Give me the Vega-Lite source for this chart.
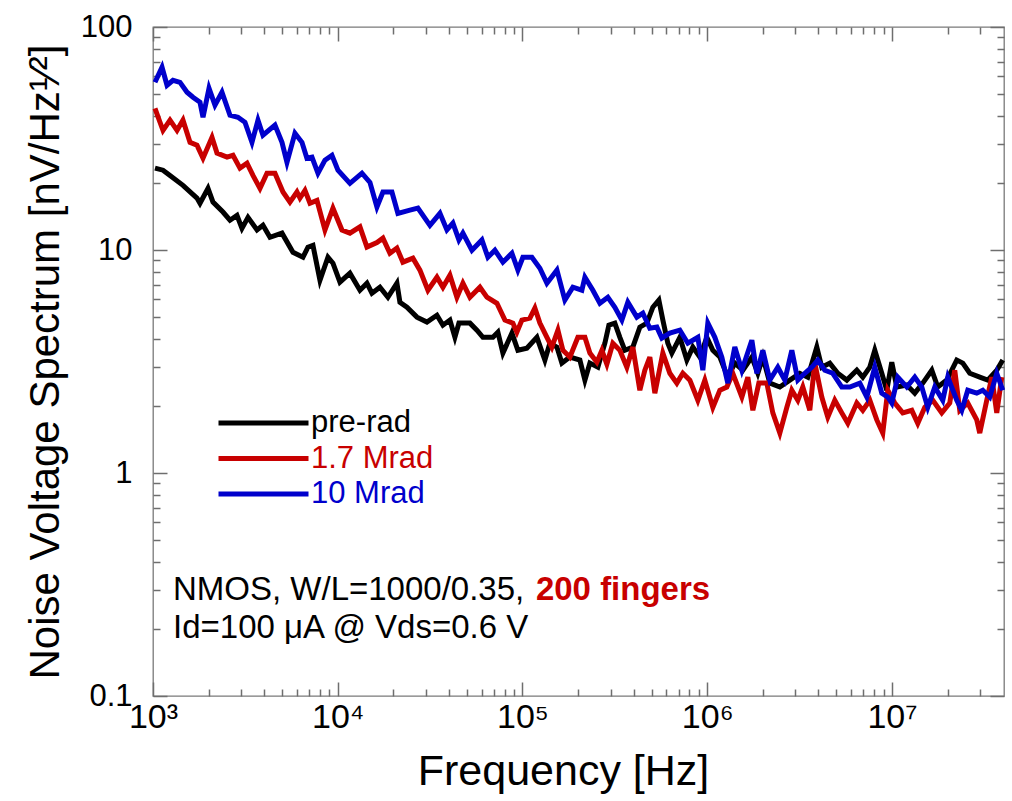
{
"$schema": "https://vega.github.io/schema/vega-lite/v6.json",
"width": 851, "height": 669,
"autosize": "none",
"padding": {"left": 153, "top": 27, "right": 8, "bottom": 105},
"background": "white",
"config": {
  "view": {"stroke": "#7a7a7a", "strokeWidth": 1.3},
  "font": "Liberation Sans"
},
"data": {"values": [
{"s":"pre-rad","f":1025,"v":23.3},{"s":"pre-rad","f":1133,"v":22.8},{"s":"pre-rad","f":1236,"v":21.6},{"s":"pre-rad","f":1453,"v":19.5},{"s":"pre-rad","f":1730,"v":17.1},{"s":"pre-rad","f":1796,"v":16.2},{"s":"pre-rad","f":1985,"v":18.9},{"s":"pre-rad","f":2112,"v":16.4},{"s":"pre-rad","f":2392,"v":14.8},{"s":"pre-rad","f":2610,"v":13.6},{"s":"pre-rad","f":2848,"v":14.3},{"s":"pre-rad","f":3031,"v":12.5},{"s":"pre-rad","f":3267,"v":14.0},{"s":"pre-rad","f":3655,"v":12.3},{"s":"pre-rad","f":3937,"v":12.9},{"s":"pre-rad","f":4296,"v":11.4},{"s":"pre-rad","f":4991,"v":11.9},{"s":"pre-rad","f":5723,"v":9.77},{"s":"pre-rad","f":6482,"v":9.28},{"s":"pre-rad","f":6898,"v":10.3},{"s":"pre-rad","f":7342,"v":10.5},{"s":"pre-rad","f":8011,"v":7.32},{"s":"pre-rad","f":8851,"v":9.28},{"s":"pre-rad","f":9420,"v":8.73},{"s":"pre-rad","f":10278,"v":7.17},{"s":"pre-rad","f":11641,"v":7.87},{"s":"pre-rad","f":13188,"v":6.60},{"s":"pre-rad","f":14387,"v":7.10},{"s":"pre-rad","f":15314,"v":6.40},{"s":"pre-rad","f":16918,"v":6.81},{"s":"pre-rad","f":18690,"v":6.14},{"s":"pre-rad","f":20908,"v":7.10},{"s":"pre-rad","f":21703,"v":5.83},{"s":"pre-rad","f":23686,"v":5.54},{"s":"pre-rad","f":26833,"v":5.00},{"s":"pre-rad","f":30393,"v":4.75},{"s":"pre-rad","f":34431,"v":5.10},{"s":"pre-rad","f":37093,"v":4.60},{"s":"pre-rad","f":40470,"v":4.85},{"s":"pre-rad","f":43070,"v":4.06},{"s":"pre-rad","f":45280,"v":4.70},{"s":"pre-rad","f":51935,"v":4.70},{"s":"pre-rad","f":56660,"v":4.37},{"s":"pre-rad","f":61055,"v":4.06},{"s":"pre-rad","f":69170,"v":4.06},{"s":"pre-rad","f":73610,"v":4.28},{"s":"pre-rad","f":78340,"v":3.45},{"s":"pre-rad","f":87640,"v":4.24},{"s":"pre-rad","f":94430,"v":3.55},{"s":"pre-rad","f":105600,"v":3.63},{"s":"pre-rad","f":119700,"v":4.06},{"s":"pre-rad","f":132200,"v":3.21},{"s":"pre-rad","f":140700,"v":3.82},{"s":"pre-rad","f":153600,"v":3.67},{"s":"pre-rad","f":163400,"v":3.11},{"s":"pre-rad","f":180500,"v":3.31},{"s":"pre-rad","f":204500,"v":3.21},{"s":"pre-rad","f":217700,"v":2.61},{"s":"pre-rad","f":231600,"v":3.11},{"s":"pre-rad","f":255900,"v":2.98},{"s":"pre-rad","f":279200,"v":3.82},{"s":"pre-rad","f":293500,"v":4.60},{"s":"pre-rad","f":316200,"v":4.70},{"s":"pre-rad","f":336600,"v":4.06},{"s":"pre-rad","f":358200,"v":3.55},{"s":"pre-rad","f":395700,"v":3.67},{"s":"pre-rad","f":431800,"v":4.51},{"s":"pre-rad","f":471200,"v":4.70},{"s":"pre-rad","f":507800,"v":5.54},{"s":"pre-rad","f":547200,"v":5.96},{"s":"pre-rad","f":575100,"v":4.85},{"s":"pre-rad","f":612100,"v":3.82},{"s":"pre-rad","f":643400,"v":3.45},{"s":"pre-rad","f":710800,"v":4.06},{"s":"pre-rad","f":775600,"v":3.21},{"s":"pre-rad","f":835800,"v":3.67},{"s":"pre-rad","f":912000,"v":3.31},{"s":"pre-rad","f":995100,"v":4.06},{"s":"pre-rad","f":1072400,"v":3.55},{"s":"pre-rad","f":1170100,"v":3.31},{"s":"pre-rad","f":1292400,"v":2.69},{"s":"pre-rad","f":1410100,"v":3.11},{"s":"pre-rad","f":1558900,"v":2.89},{"s":"pre-rad","f":1744000,"v":3.31},{"s":"pre-rad","f":1879100,"v":2.80},{"s":"pre-rad","f":1999700,"v":3.31},{"s":"pre-rad","f":2181900,"v":2.53},{"s":"pre-rad","f":2471400,"v":2.43},{"s":"pre-rad","f":2799400,"v":2.61},{"s":"pre-rad","f":3170400,"v":2.80},{"s":"pre-rad","f":3502800,"v":2.69},{"s":"pre-rad","f":3918100,"v":3.67},{"s":"pre-rad","f":4169700,"v":2.98},{"s":"pre-rad","f":4606600,"v":3.11},{"s":"pre-rad","f":5089000,"v":2.80},{"s":"pre-rad","f":5695000,"v":2.61},{"s":"pre-rad","f":6452000,"v":2.89},{"s":"pre-rad","f":6951000,"v":2.69},{"s":"pre-rad","f":7584000,"v":2.98},{"s":"pre-rad","f":8072000,"v":3.55},{"s":"pre-rad","f":8807000,"v":2.80},{"s":"pre-rad","f":9374000,"v":2.35},{"s":"pre-rad","f":9975000,"v":3.14},{"s":"pre-rad","f":10617000,"v":2.43},{"s":"pre-rad","f":12026000,"v":2.48},{"s":"pre-rad","f":13288000,"v":2.28},{"s":"pre-rad","f":14685000,"v":2.53},{"s":"pre-rad","f":16425000,"v":2.89},{"s":"pre-rad","f":17700000,"v":2.43},{"s":"pre-rad","f":19800000,"v":2.61},{"s":"pre-rad","f":22420000,"v":3.21},{"s":"pre-rad","f":24170000,"v":3.11},{"s":"pre-rad","f":26370000,"v":2.80},{"s":"pre-rad","f":29870000,"v":2.69},{"s":"pre-rad","f":32990000,"v":2.61},{"s":"pre-rad","f":36920000,"v":2.89},{"s":"pre-rad","f":39780000,"v":3.21},
{"s":"1.7 Mrad","f":1025,"v":43.2},{"s":"1.7 Mrad","f":1091,"v":37.4},{"s":"1.7 Mrad","f":1133,"v":34.4},{"s":"1.7 Mrad","f":1236,"v":38.2},{"s":"1.7 Mrad","f":1349,"v":34.4},{"s":"1.7 Mrad","f":1453,"v":38.2},{"s":"1.7 Mrad","f":1586,"v":30.4},{"s":"1.7 Mrad","f":1730,"v":29.5},{"s":"1.7 Mrad","f":1865,"v":25.8},{"s":"1.7 Mrad","f":2086,"v":32.0},{"s":"1.7 Mrad","f":2220,"v":27.2},{"s":"1.7 Mrad","f":2515,"v":26.1},{"s":"1.7 Mrad","f":2710,"v":26.6},{"s":"1.7 Mrad","f":2956,"v":23.3},{"s":"1.7 Mrad","f":3227,"v":24.5},{"s":"1.7 Mrad","f":3476,"v":21.6},{"s":"1.7 Mrad","f":3793,"v":18.9},{"s":"1.7 Mrad","f":4140,"v":22.1},{"s":"1.7 Mrad","f":4573,"v":22.1},{"s":"1.7 Mrad","f":5053,"v":18.2},{"s":"1.7 Mrad","f":5512,"v":16.4},{"s":"1.7 Mrad","f":6015,"v":18.2},{"s":"1.7 Mrad","f":6245,"v":17.1},{"s":"1.7 Mrad","f":6645,"v":18.5},{"s":"1.7 Mrad","f":7073,"v":16.2},{"s":"1.7 Mrad","f":7718,"v":16.7},{"s":"1.7 Mrad","f":8527,"v":12.3},{"s":"1.7 Mrad","f":9420,"v":15.4},{"s":"1.7 Mrad","f":10536,"v":12.3},{"s":"1.7 Mrad","f":11641,"v":11.9},{"s":"1.7 Mrad","f":13188,"v":12.7},{"s":"1.7 Mrad","f":14387,"v":10.3},{"s":"1.7 Mrad","f":16296,"v":10.8},{"s":"1.7 Mrad","f":17562,"v":11.3},{"s":"1.7 Mrad","f":19162,"v":9.67},{"s":"1.7 Mrad","f":20908,"v":10.2},{"s":"1.7 Mrad","f":22528,"v":8.82},{"s":"1.7 Mrad","f":25521,"v":9.19},{"s":"1.7 Mrad","f":27848,"v":8.12},{"s":"1.7 Mrad","f":30775,"v":6.60},{"s":"1.7 Mrad","f":34431,"v":7.55},{"s":"1.7 Mrad","f":37093,"v":6.81},{"s":"1.7 Mrad","f":40470,"v":7.71},{"s":"1.7 Mrad","f":44157,"v":6.14},{"s":"1.7 Mrad","f":47589,"v":7.10},{"s":"1.7 Mrad","f":51935,"v":6.14},{"s":"1.7 Mrad","f":58820,"v":6.81},{"s":"1.7 Mrad","f":64180,"v":6.14},{"s":"1.7 Mrad","f":72700,"v":5.77},{"s":"1.7 Mrad","f":80320,"v":4.85},{"s":"1.7 Mrad","f":88740,"v":4.70},{"s":"1.7 Mrad","f":93260,"v":4.28},{"s":"1.7 Mrad","f":99270,"v":4.85},{"s":"1.7 Mrad","f":109700,"v":4.95},{"s":"1.7 Mrad","f":116700,"v":5.49},{"s":"1.7 Mrad","f":124200,"v":4.70},{"s":"1.7 Mrad","f":135600,"v":4.06},{"s":"1.7 Mrad","f":144200,"v":3.67},{"s":"1.7 Mrad","f":155500,"v":4.37},{"s":"1.7 Mrad","f":165500,"v":3.55},{"s":"1.7 Mrad","f":180500,"v":3.31},{"s":"1.7 Mrad","f":199400,"v":4.06},{"s":"1.7 Mrad","f":217700,"v":4.06},{"s":"1.7 Mrad","f":231600,"v":3.45},{"s":"1.7 Mrad","f":252700,"v":3.14},{"s":"1.7 Mrad","f":269000,"v":3.55},{"s":"1.7 Mrad","f":286200,"v":3.08},{"s":"1.7 Mrad","f":308500,"v":3.82},{"s":"1.7 Mrad","f":336600,"v":3.55},{"s":"1.7 Mrad","f":367200,"v":2.98},{"s":"1.7 Mrad","f":395700,"v":3.67},{"s":"1.7 Mrad","f":431800,"v":2.35},{"s":"1.7 Mrad","f":459500,"v":2.89},{"s":"1.7 Mrad","f":489000,"v":3.31},{"s":"1.7 Mrad","f":520600,"v":2.28},{"s":"1.7 Mrad","f":575100,"v":3.45},{"s":"1.7 Mrad","f":627500,"v":2.80},{"s":"1.7 Mrad","f":684700,"v":2.53},{"s":"1.7 Mrad","f":737900,"v":2.80},{"s":"1.7 Mrad","f":805100,"v":2.61},{"s":"1.7 Mrad","f":889600,"v":2.12},{"s":"1.7 Mrad","f":970500,"v":2.61},{"s":"1.7 Mrad","f":1072400,"v":1.97},{"s":"1.7 Mrad","f":1170100,"v":2.35},{"s":"1.7 Mrad","f":1276500,"v":2.43},{"s":"1.7 Mrad","f":1375500,"v":2.80},{"s":"1.7 Mrad","f":1539600,"v":2.19},{"s":"1.7 Mrad","f":1659000,"v":2.69},{"s":"1.7 Mrad","f":1765800,"v":1.91},{"s":"1.7 Mrad","f":1902600,"v":2.53},{"s":"1.7 Mrad","f":2101700,"v":2.53},{"s":"1.7 Mrad","f":2264800,"v":1.86},{"s":"1.7 Mrad","f":2471400,"v":1.51},{"s":"1.7 Mrad","f":2696700,"v":1.97},{"s":"1.7 Mrad","f":2870000,"v":2.35},{"s":"1.7 Mrad","f":3092500,"v":2.12},{"s":"1.7 Mrad","f":3291100,"v":2.43},{"s":"1.7 Mrad","f":3591100,"v":1.91},{"s":"1.7 Mrad","f":3821800,"v":3.11},{"s":"1.7 Mrad","f":4169700,"v":2.19},{"s":"1.7 Mrad","f":4493200,"v":1.78},{"s":"1.7 Mrad","f":4902600,"v":2.12},{"s":"1.7 Mrad","f":5350000,"v":1.86},{"s":"1.7 Mrad","f":5767000,"v":1.67},{"s":"1.7 Mrad","f":6452000,"v":2.06},{"s":"1.7 Mrad","f":6951000,"v":1.91},{"s":"1.7 Mrad","f":7584000,"v":2.12},{"s":"1.7 Mrad","f":8275000,"v":1.73},{"s":"1.7 Mrad","f":8917000,"v":1.51},{"s":"1.7 Mrad","f":9492000,"v":2.35},{"s":"1.7 Mrad","f":10356000,"v":2.06},{"s":"1.7 Mrad","f":11442000,"v":1.86},{"s":"1.7 Mrad","f":12800000,"v":1.91},{"s":"1.7 Mrad","f":13793000,"v":1.67},{"s":"1.7 Mrad","f":15055000,"v":1.97},{"s":"1.7 Mrad","f":16630000,"v":2.12},{"s":"1.7 Mrad","f":18600000,"v":1.86},{"s":"1.7 Mrad","f":20550000,"v":2.06},{"s":"1.7 Mrad","f":21870000,"v":2.89},{"s":"1.7 Mrad","f":23280000,"v":1.91},{"s":"1.7 Mrad","f":25720000,"v":2.06},{"s":"1.7 Mrad","f":28770000,"v":1.73},{"s":"1.7 Mrad","f":29870000,"v":1.51},{"s":"1.7 Mrad","f":32590000,"v":2.12},{"s":"1.7 Mrad","f":34680000,"v":2.69},{"s":"1.7 Mrad","f":36920000,"v":1.86},{"s":"1.7 Mrad","f":39290000,"v":2.69},
{"s":"10 Mrad","f":1025,"v":56.5},{"s":"10 Mrad","f":1119,"v":66.0},{"s":"10 Mrad","f":1191,"v":54.8},{"s":"10 Mrad","f":1283,"v":57.7},{"s":"10 Mrad","f":1400,"v":56.5},{"s":"10 Mrad","f":1528,"v":51.0},{"s":"10 Mrad","f":1646,"v":48.4},{"s":"10 Mrad","f":1796,"v":46.0},{"s":"10 Mrad","f":1865,"v":39.4},{"s":"10 Mrad","f":2010,"v":53.1},{"s":"10 Mrad","f":2165,"v":44.6},{"s":"10 Mrad","f":2362,"v":51.0},{"s":"10 Mrad","f":2610,"v":40.2},{"s":"10 Mrad","f":2884,"v":39.4},{"s":"10 Mrad","f":3146,"v":37.4},{"s":"10 Mrad","f":3433,"v":30.4},{"s":"10 Mrad","f":3700,"v":38.2},{"s":"10 Mrad","f":3937,"v":32.7},{"s":"10 Mrad","f":4573,"v":36.3},{"s":"10 Mrad","f":4991,"v":30.4},{"s":"10 Mrad","f":5311,"v":24.7},{"s":"10 Mrad","f":5867,"v":33.4},{"s":"10 Mrad","f":6402,"v":30.4},{"s":"10 Mrad","f":6811,"v":25.8},{"s":"10 Mrad","f":7251,"v":26.1},{"s":"10 Mrad","f":7815,"v":22.1},{"s":"10 Mrad","f":8527,"v":25.3},{"s":"10 Mrad","f":9303,"v":26.6},{"s":"10 Mrad","f":10025,"v":22.8},{"s":"10 Mrad","f":11641,"v":19.9},{"s":"10 Mrad","f":13521,"v":22.1},{"s":"10 Mrad","f":14938,"v":20.1},{"s":"10 Mrad","f":16296,"v":15.6},{"s":"10 Mrad","f":17562,"v":18.2},{"s":"10 Mrad","f":19645,"v":18.2},{"s":"10 Mrad","f":21170,"v":14.6},{"s":"10 Mrad","f":24587,"v":15.1},{"s":"10 Mrad","f":27164,"v":15.4},{"s":"10 Mrad","f":31547,"v":12.9},{"s":"10 Mrad","f":35738,"v":14.6},{"s":"10 Mrad","f":38986,"v":12.3},{"s":"10 Mrad","f":42010,"v":13.2},{"s":"10 Mrad","f":45280,"v":11.1},{"s":"10 Mrad","f":47589,"v":11.9},{"s":"10 Mrad","f":53250,"v":9.98},{"s":"10 Mrad","f":60300,"v":11.1},{"s":"10 Mrad","f":64983,"v":9.28},{"s":"10 Mrad","f":70910,"v":9.98},{"s":"10 Mrad","f":78340,"v":8.82},{"s":"10 Mrad","f":87640,"v":9.67},{"s":"10 Mrad","f":94430,"v":8.12},{"s":"10 Mrad","f":100500,"v":9.28},{"s":"10 Mrad","f":112400,"v":9.28},{"s":"10 Mrad","f":124200,"v":8.29},{"s":"10 Mrad","f":135600,"v":7.10},{"s":"10 Mrad","f":153600,"v":8.12},{"s":"10 Mrad","f":169600,"v":5.96},{"s":"10 Mrad","f":187400,"v":6.81},{"s":"10 Mrad","f":209600,"v":6.60},{"s":"10 Mrad","f":217700,"v":7.55},{"s":"10 Mrad","f":240400,"v":6.60},{"s":"10 Mrad","f":262400,"v":5.77},{"s":"10 Mrad","f":289800,"v":6.14},{"s":"10 Mrad","f":316200,"v":5.54},{"s":"10 Mrad","f":345100,"v":4.85},{"s":"10 Mrad","f":371800,"v":5.83},{"s":"10 Mrad","f":415900,"v":5.00},{"s":"10 Mrad","f":448200,"v":5.21},{"s":"10 Mrad","f":489000,"v":4.46},{"s":"10 Mrad","f":533700,"v":4.51},{"s":"10 Mrad","f":568000,"v":4.03},{"s":"10 Mrad","f":627500,"v":4.24},{"s":"10 Mrad","f":710800,"v":4.37},{"s":"10 Mrad","f":785300,"v":3.82},{"s":"10 Mrad","f":889600,"v":4.06},{"s":"10 Mrad","f":946700,"v":2.89},{"s":"10 Mrad","f":1007700,"v":4.70},{"s":"10 Mrad","f":1099500,"v":4.06},{"s":"10 Mrad","f":1199500,"v":3.31},{"s":"10 Mrad","f":1292400,"v":2.53},{"s":"10 Mrad","f":1410100,"v":3.67},{"s":"10 Mrad","f":1539600,"v":2.89},{"s":"10 Mrad","f":1744000,"v":3.94},{"s":"10 Mrad","f":1855900,"v":2.80},{"s":"10 Mrad","f":1999700,"v":3.55},{"s":"10 Mrad","f":2181900,"v":2.61},{"s":"10 Mrad","f":2410600,"v":2.98},{"s":"10 Mrad","f":2630300,"v":2.61},{"s":"10 Mrad","f":2870000,"v":3.55},{"s":"10 Mrad","f":3092500,"v":2.61},{"s":"10 Mrad","f":3374000,"v":2.80},{"s":"10 Mrad","f":3681600,"v":2.98},{"s":"10 Mrad","f":3967200,"v":3.21},{"s":"10 Mrad","f":4328400,"v":2.89},{"s":"10 Mrad","f":4782000,"v":2.80},{"s":"10 Mrad","f":5350000,"v":2.43},{"s":"10 Mrad","f":5912000,"v":2.43},{"s":"10 Mrad","f":6697000,"v":2.53},{"s":"10 Mrad","f":7306000,"v":2.19},{"s":"10 Mrad","f":8072000,"v":2.98},{"s":"10 Mrad","f":8807000,"v":2.28},{"s":"10 Mrad","f":9492000,"v":2.19},{"s":"10 Mrad","f":9975000,"v":2.06},{"s":"10 Mrad","f":10750000,"v":2.69},{"s":"10 Mrad","f":12026000,"v":2.43},{"s":"10 Mrad","f":13288000,"v":2.69},{"s":"10 Mrad","f":14503000,"v":2.43},{"s":"10 Mrad","f":15625000,"v":1.97},{"s":"10 Mrad","f":17050000,"v":2.43},{"s":"10 Mrad","f":18830000,"v":2.12},{"s":"10 Mrad","f":20045000,"v":2.69},{"s":"10 Mrad","f":22420000,"v":2.12},{"s":"10 Mrad","f":23870000,"v":1.91},{"s":"10 Mrad","f":25720000,"v":2.35},{"s":"10 Mrad","f":28770000,"v":2.28},{"s":"10 Mrad","f":31000000,"v":2.35},{"s":"10 Mrad","f":33820000,"v":2.19},{"s":"10 Mrad","f":36920000,"v":2.80},{"s":"10 Mrad","f":39780000,"v":2.35}
]},
"layer": [
  {
    "mark": {"type": "line", "strokeWidth": 5},
    "encoding": {
      "x": {"field": "f", "type": "quantitative",
            "scale": {"type": "log", "domain": [1000, 40400000], "nice": false},
            "axis": {"orient": "bottom", "values": [1000,10000,100000,1000000,10000000], "ticks": false, "tickSize": 0, "domain": false, "grid": false,
                     "labelExpr": "'10' + ['⁰','¹','²','³','⁴','⁵','⁶','⁷','⁸'][round(log(datum.value)/LN10)]",
                     "labelFont": "Liberation Sans", "labelColor": "#000000", "labelFontSize": 34, "labelPadding": 4, "labelBaseline": "top", "labelFlush": false, "labelOverlap": false,
                     "title": "Frequency [Hz]", "titleFont": "Liberation Sans", "titleColor": "#000000", "titleFontWeight": "normal", "titleFontSize": 43, "titlePadding": 16, "titleX": 410}},
      "y": {"field": "v", "type": "quantitative",
            "scale": {"type": "log", "domain": [0.1, 100], "nice": false},
            "axis": {"orient": "left", "values": [0.1,1,10,100], "ticks": false, "tickSize": 0, "domain": false, "grid": false,
                     "labelExpr": "toString(datum.value)",
                     "labelFont": "Liberation Sans", "labelColor": "#000000", "labelFontSize": 31, "labelPadding": 21, "labelFlush": false, "labelOverlap": false,
                     "title": "Noise Voltage Spectrum [nV/Hz¹⁄²]", "titleFont": "Liberation Sans", "titleColor": "#000000", "titleFontWeight": "normal", "titleFontSize": 42, "titlePadding": 13}},
      "color": {"field": "s", "type": "nominal",
                "scale": {"domain": ["pre-rad", "1.7 Mrad", "10 Mrad"], "range": ["#000000", "#c80000", "#0000cc"]},
                "legend": {"orient": "none", "legendX": 63, "legendY": 380, "title": null,
                           "symbolType": "stroke", "symbolSize": 8100, "symbolStrokeWidth": 5,
                           "labelFontSize": 31, "labelFont": "Liberation Sans", "labelOffset": 0, "labelLimit": 400,
                           "clipHeight": 32, "rowPadding": 3.5, "padding": 0,
                           "encode": {"labels": {"update": {"fill": {"scale": "color", "field": "value"}}}}}}
    }
  },
  {
    "mark": {"type": "point", "opacity": 0},
    "encoding": {
      "x": {"field": "f", "type": "quantitative",
            "scale": {"type": "log", "domain": [1000, 40400000], "nice": false},
            "axis": {"orient": "bottom", "title": null, "labels": false, "domain": false, "grid": false, "offset": -14, "tickSize": 14, "tickColor": "#6e6e6e", "tickWidth": 1.5,
                     "values": [1000,10000,100000,1000000,10000000]}},
      "y": {"field": "v", "type": "quantitative",
            "scale": {"type": "log", "domain": [0.1, 100], "nice": false},
            "axis": {"orient": "left", "title": null, "labels": false, "domain": false, "grid": false, "offset": -14, "tickSize": 14, "tickColor": "#6e6e6e", "tickWidth": 1.5,
                     "values": [0.1,1,10,100]}}
    }
  },
  {
    "mark": {"type": "point", "opacity": 0},
    "encoding": {
      "x": {"field": "f", "type": "quantitative",
            "scale": {"type": "log", "domain": [1000, 40400000], "nice": false},
            "axis": {"orient": "bottom", "title": null, "labels": false, "domain": false, "grid": false, "offset": -7, "tickSize": 7, "tickColor": "#6e6e6e", "tickWidth": 1.5,
                     "values": [2000,3000,4000,5000,6000,7000,8000,9000,20000,30000,40000,50000,60000,70000,80000,90000,200000,300000,400000,500000,600000,700000,800000,900000,2000000,3000000,4000000,5000000,6000000,7000000,8000000,9000000,20000000,30000000]}},
      "y": {"field": "v", "type": "quantitative",
            "scale": {"type": "log", "domain": [0.1, 100], "nice": false},
            "axis": {"orient": "left", "title": null, "labels": false, "domain": false, "grid": false, "offset": -7, "tickSize": 7, "tickColor": "#6e6e6e", "tickWidth": 1.5,
                     "values": [0.2,0.3,0.4,0.5,0.6,0.7,0.8,0.9,2,3,4,5,6,7,8,9,20,30,40,50,60,70,80,90]}}
    }
  },
  {
    "mark": {"type": "point", "opacity": 0},
    "encoding": {
      "x": {"field": "f", "type": "quantitative",
            "scale": {"type": "log", "domain": [1000, 40400000], "nice": false},
            "axis": {"orient": "top", "title": null, "labels": false, "domain": false, "grid": false, "offset": -14, "tickSize": 14, "tickColor": "#6e6e6e", "tickWidth": 1.5,
                     "values": [1000,10000,100000,1000000,10000000]}},
      "y": {"field": "v", "type": "quantitative",
            "scale": {"type": "log", "domain": [0.1, 100], "nice": false},
            "axis": {"orient": "right", "title": null, "labels": false, "domain": false, "grid": false, "offset": -14, "tickSize": 14, "tickColor": "#6e6e6e", "tickWidth": 1.5,
                     "values": [0.1,1,10,100]}}
    }
  },
  {
    "mark": {"type": "point", "opacity": 0},
    "encoding": {
      "x": {"field": "f", "type": "quantitative",
            "scale": {"type": "log", "domain": [1000, 40400000], "nice": false},
            "axis": {"orient": "top", "title": null, "labels": false, "domain": false, "grid": false, "offset": -7, "tickSize": 7, "tickColor": "#6e6e6e", "tickWidth": 1.5,
                     "values": [2000,3000,4000,5000,6000,7000,8000,9000,20000,30000,40000,50000,60000,70000,80000,90000,200000,300000,400000,500000,600000,700000,800000,900000,2000000,3000000,4000000,5000000,6000000,7000000,8000000,9000000,20000000,30000000]}},
      "y": {"field": "v", "type": "quantitative",
            "scale": {"type": "log", "domain": [0.1, 100], "nice": false},
            "axis": {"orient": "right", "title": null, "labels": false, "domain": false, "grid": false, "offset": -7, "tickSize": 7, "tickColor": "#6e6e6e", "tickWidth": 1.5,
                     "values": [0.2,0.3,0.4,0.5,0.6,0.7,0.8,0.9,2,3,4,5,6,7,8,9,20,30,40,50,60,70,80,90]}}
    }
  },
  {
    "data": {"values": [{"t": "NMOS, W/L=1000/0.35,"}]},
    "mark": {"type": "text", "align": "left", "baseline": "middle", "fontSize": 33, "font": "Liberation Sans", "color": "#000000"},
    "encoding": {
      "x": {"datum": 1283, "type": "quantitative", "scale": {"type": "log", "domain": [1000, 40400000], "nice": false}, "axis": null},
      "y": {"datum": 0.2986, "type": "quantitative", "scale": {"type": "log", "domain": [0.1, 100], "nice": false}, "axis": null},
      "text": {"field": "t"}
    }
  },
  {
    "data": {"values": [{"t": "200 fingers"}]},
    "mark": {"type": "text", "align": "left", "baseline": "middle", "fontSize": 33, "font": "Liberation Sans", "fontWeight": "bold", "color": "#c80000"},
    "encoding": {
      "x": {"datum": 118200, "type": "quantitative", "scale": {"type": "log", "domain": [1000, 40400000], "nice": false}, "axis": null},
      "y": {"datum": 0.2986, "type": "quantitative", "scale": {"type": "log", "domain": [0.1, 100], "nice": false}, "axis": null},
      "text": {"field": "t"}
    }
  },
  {
    "data": {"values": [{"t": "Id=100 μA @ Vds=0.6 V"}]},
    "mark": {"type": "text", "align": "left", "baseline": "middle", "fontSize": 33, "font": "Liberation Sans", "color": "#000000"},
    "encoding": {
      "x": {"datum": 1283, "type": "quantitative", "scale": {"type": "log", "domain": [1000, 40400000], "nice": false}, "axis": null},
      "y": {"datum": 0.2017, "type": "quantitative", "scale": {"type": "log", "domain": [0.1, 100], "nice": false}, "axis": null},
      "text": {"field": "t"}
    }
  }
],
"resolve": {"axis": {"x": "independent", "y": "independent"}}
}
